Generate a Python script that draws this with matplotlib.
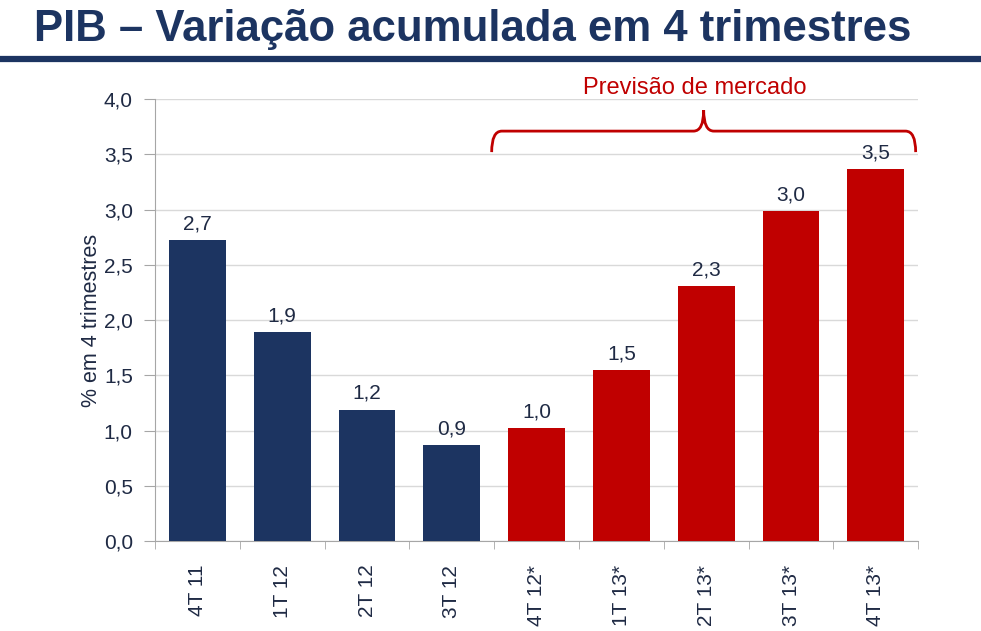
import matplotlib.pyplot as plt
from matplotlib.path import Path
from matplotlib.patches import PathPatch

# ------------------------------------------------------------
# data
# ------------------------------------------------------------
categories = ["4T 11", "1T 12", "2T 12", "3T 12", "4T 12*",
              "1T 13*", "2T 13*", "3T 13*", "4T 13*"]
values = [2.72, 1.89, 1.19, 0.87, 1.02, 1.55, 2.31, 2.99, 3.37]
value_labels = ["2,7", "1,9", "1,2", "0,9", "1,0", "1,5", "2,3", "3,0", "3,5"]
is_forecast = [False, False, False, False, True, True, True, True, True]
y_ticks = [0.0, 0.5, 1.0, 1.5, 2.0, 2.5, 3.0, 3.5, 4.0]

NAVY = "#1C3461"
RED = "#C00000"
TXT = "#1F2A44"

plt.rcParams["font.family"] = ["Liberation Sans", "DejaVu Sans"]

fig = plt.figure(figsize=(9.81, 6.31), dpi=100)

# ---- title + rule ----
fig.text(0.035, 0.953, "PIB – Variação acumulada em 4 trimestres",
         fontsize=31.5, fontweight="bold", color=NAVY, va="center", ha="left")
fig.add_artist(plt.Line2D([0, 1], [0.906, 0.906], color=NAVY, lw=4.5,
                          transform=fig.transFigure))

# ---- bars ----
ax = fig.add_axes([0.158, 0.1426, 0.778, 0.7004])
x = list(range(len(categories)))
colors = [RED if f else NAVY for f in is_forecast]
ax.bar(x, values, width=0.67, color=colors, zorder=3)

for xi, v, lab in zip(x, values, value_labels):
    ax.text(xi, v + 0.06, lab, ha="center", va="bottom", fontsize=15, color=TXT)

ax.set_xlim(-0.5, len(categories) - 0.5)
ax.set_ylim(0, 4.0)
ax.set_yticks(y_ticks)
ax.set_yticklabels([f"{t:.1f}".replace(".", ",") for t in y_ticks],
                   fontsize=15, color=TXT)
ax.yaxis.grid(True, color="#D9D9D9", lw=1, zorder=0)

ax.set_xticks(x)
ax.set_xticklabels(categories, rotation=90, fontsize=15, color=TXT)
ax.set_xticks([i - 0.5 for i in range(len(categories) + 1)], minor=True)
ax.tick_params(axis="x", which="major", length=0, pad=17)
ax.tick_params(axis="x", which="minor", length=6, color="#A6A6A6", direction="out")
ax.tick_params(axis="y", length=8, color="#A6A6A6", direction="out", pad=8)

for side in ["top", "right"]:
    ax.spines[side].set_visible(False)
for side in ["left", "bottom"]:
    ax.spines[side].set_color("#A6A6A6")

ax.set_ylabel("% em 4 trimestres", fontsize=15.5, color=TXT, labelpad=1)

# ---- bracket over forecast bars ----
x0, x1 = 3.47, 8.47
xm = 0.5 * (x0 + x1)
y_low, y_bar, y_top = 3.52, 3.71, 3.9
r = 0.06
verts = [
    (x0, y_low), (x0, y_bar), (x0 + r * 2, y_bar),
    (xm - r * 2, y_bar), (xm, y_bar), (xm, y_top),
    (xm, y_bar), (xm + r * 2, y_bar),
    (x1 - r * 2, y_bar), (x1, y_bar), (x1, y_low),
]
codes = [Path.MOVETO, Path.CURVE3, Path.CURVE3,
         Path.LINETO, Path.CURVE3, Path.CURVE3,
         Path.CURVE3, Path.CURVE3,
         Path.LINETO, Path.CURVE3, Path.CURVE3]
ax.add_patch(PathPatch(Path(verts, codes), fill=False, edgecolor=RED,
                       lw=2, clip_on=False, zorder=5))
ax.text(xm - 0.1, 4.1, "Previsão de mercado", ha="center", va="center",
        fontsize=17, color=RED)

fig.savefig("out.png", dpi=100)
